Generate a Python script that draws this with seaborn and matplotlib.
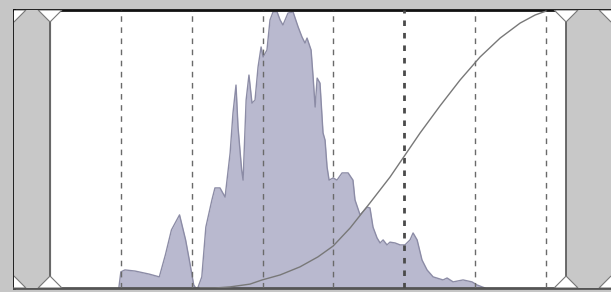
import matplotlib
matplotlib.use("Agg")
import matplotlib.pyplot as plt
import numpy as np
import pandas as pd
import seaborn as sns

# histogram outline, levels 0..255 vs percent of max
hist_level = [34, 35, 37, 42, 49, 54, 57, 60, 64, 67, 69, 71, 72, 73, 75, 77, 80, 81.5,
              84, 86.5, 89, 90.4, 91.9, 92.9, 94.7, 95.4, 96.9, 98.3, 99.8, 101.3, 102.8,
              104.3, 105.3, 107.2, 108.7, 110.2, 112.2, 113.7, 115.1, 117.6, 120.1, 122.6,
              124.5, 126, 127, 129, 130, 131, 132, 133.4, 134.9, 135.9, 136.9, 137.9, 139.9,
              141.8, 144.3, 147.3, 149.7, 150.7, 153.2, 156.7, 158.1, 159.6, 161.6, 163.1,
              164.6, 166.5, 168, 170.5, 173, 175.4, 177.9, 179.4, 181.4, 183.8, 186.3, 189.3,
              194.2, 196.2, 199.2, 204.1, 208.5, 211, 213.5, 215]
hist_pct = [0, 5.8, 6.5, 6.1, 5.0, 4.0, 11.9, 20.9, 26.3, 17.3, 9.4, 1.1, 0, 0, 4.0, 21.9,
            31.7, 36.0, 36.0, 32.7, 48.6, 62.9, 73.0, 57.9, 42.4, 38.8, 67.6, 76.6, 66.5, 67.6,
            79.5, 86.7, 83.1, 85.6, 96.4, 99.3, 99.3, 96.4, 94.6, 98.9, 99.3, 93.9, 90.3, 88.1,
            89.9, 85.6, 75.9, 65.1, 75.5, 73.7, 55.8, 53.2, 43.5, 38.8, 39.6, 38.8, 41.4, 41.4,
            38.8, 31.7, 26.3, 29.1, 28.8, 21.9, 18.0, 16.2, 17.3, 15.5, 16.5, 16.2, 15.5, 15.5,
            17.3, 19.8, 17.3, 10.1, 6.5, 4.0, 2.9, 3.6, 2.2, 2.9, 2.2, 1.1, 0.4, 0]

# tone curve
curve_level = [74.1, 81.5, 89.0, 98.8, 104.8, 113.7, 123.5, 132.4, 139.9, 148.3, 158.1,
               168.0, 175.4, 182.9, 192.7, 202.6, 212.5, 222.4, 232.3, 239.7, 245.1]
curve_pct = [0, 0, 0.4, 1.4, 2.9, 4.7, 7.6, 11.2, 15.1, 21.6, 30.6,
             39.9, 47.8, 55.8, 65.5, 74.8, 83.1, 89.9, 95.3, 98.2, 99.6]

grid_levels = [35, 70, 105, 140, 175, 210, 245]
handle_levels = [0, 255]

X_MIN, X_MAX = -17.8, 277.2

sns.set_style("white")
fig = plt.figure(figsize=(6.11, 2.92), dpi=100, facecolor="#c6c6c6")
ax = fig.add_axes([14 / 611, 4 / 292, 597 / 611, 278 / 292])
ax.set_facecolor("white")

hist = pd.DataFrame({"level": hist_level, "pct": hist_pct})
curve = pd.DataFrame({"level": curve_level, "pct": curve_pct})

ax.fill_between(hist["level"], 0, hist["pct"], color="#b9b9cf", lw=0, zorder=1)
sns.lineplot(data=hist, x="level", y="pct", ax=ax, color="#8c8ca6", lw=1, sort=False, zorder=2)

for g in grid_levels:
    if g == 175:
        ax.axvline(g, color="#4a4a4a", lw=2, ls=(0, (2, 2.5)), zorder=3)
    else:
        ax.axvline(g, color="#6a6a6a", lw=1, ls=(0, (4, 4)), zorder=3)

sns.lineplot(data=curve, x="level", y="pct", ax=ax, color="#787878", lw=1, zorder=4)

# side slider panels
ax.axvspan(X_MIN, handle_levels[0], color="#c8c8c8", zorder=5)
ax.axvspan(handle_levels[1], X_MAX, color="#c8c8c8", zorder=5)
for h in handle_levels:
    ax.axvline(h, color="#555555", lw=1.2, zorder=6)

# triangle handles
tw, th = 5.9, 4.3
for h in [X_MIN, handle_levels[0], handle_levels[1], X_MAX]:
    ax.fill([h - tw, h + tw, h], [100, 100, 100 - th], facecolor="white",
            edgecolor="#777777", lw=0.8, zorder=7, clip_on=True)
    ax.fill([h - tw, h + tw, h], [0, 0, th], facecolor="white",
            edgecolor="#777777", lw=0.8, zorder=7, clip_on=True)

ax.set_xlim(X_MIN, X_MAX)
ax.set_ylim(0, 100)
ax.set_xlabel("")
ax.set_ylabel("")
ax.set_xticks([])
ax.set_yticks([])
for side in ["left", "top"]:
    ax.spines[side].set_color("#111111")
    ax.spines[side].set_linewidth(2)
ax.spines["bottom"].set_color("#555555")
ax.spines["bottom"].set_linewidth(2)
ax.spines["right"].set_visible(False)

fig.savefig("out.png", dpi=100, facecolor=fig.get_facecolor())
